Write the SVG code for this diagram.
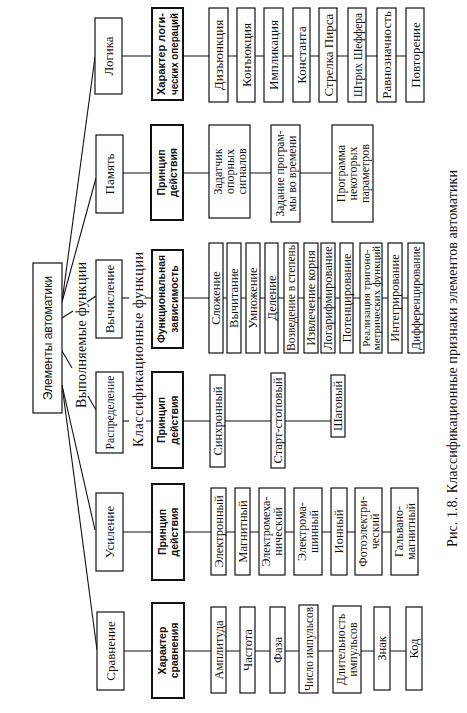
<svg xmlns="http://www.w3.org/2000/svg" width="467" height="713" viewBox="0 0 467 713">
<style>
rect{fill:#fff;stroke:#111;stroke-width:1.2}
rect.bb{stroke-width:2}
line{stroke:#111;stroke-width:1.1}
text{font-family:"Liberation Serif","Times New Roman",serif;font-size:12.5px;fill:#111;text-anchor:middle}
.l1{font-size:13px}
.lb{font-family:"Liberation Sans",Arial,sans-serif;font-weight:bold;font-size:10.5px}
.rt{font-family:"Liberation Sans",Arial,sans-serif;font-size:12px}
.s12{font-size:12px}
.s11{font-size:11px}
.lbl{font-size:14px}
.lf13{font-size:13px}
</style>
<rect x="0" y="0" width="467" height="713" style="fill:#fff;stroke:none"/>
<g id="connectors">
<line x1="62" y1="302" x2="95" y2="57"/>
<line x1="62" y1="302" x2="96" y2="178"/>
<line x1="62" y1="318" x2="73" y2="311"/>
<line x1="87" y1="302" x2="96" y2="296"/>
<line x1="62" y1="351" x2="72" y2="368"/>
<line x1="88" y1="396" x2="96" y2="410"/>
<line x1="62" y1="385" x2="95" y2="530"/>
<line x1="62" y1="385" x2="97" y2="650"/>
<line x1="122" y1="56" x2="406" y2="56"/>
<line x1="123" y1="173" x2="332" y2="173"/>
<line x1="122" y1="298" x2="129" y2="298"/>
<line x1="146" y1="298" x2="408" y2="298"/>
<line x1="123" y1="421" x2="129" y2="421"/>
<line x1="146" y1="421" x2="331" y2="421"/>
<line x1="123" y1="532" x2="391" y2="532"/>
<line x1="124" y1="651" x2="406" y2="651"/>
</g>
<g id="labels">
<text class="lbl" transform="translate(86,335) rotate(-90)" textLength="146" lengthAdjust="spacing">Выполняемые функции</text>
<text class="lbl" transform="translate(143,349.5) rotate(-90)" textLength="195" lengthAdjust="spacing">Классификационные функции</text>
<text class="lbl" transform="translate(457,358.5) rotate(-90)" textLength="377" lengthAdjust="spacing">Рис. 1.8. Классификационные признаки элементов автоматики</text>
</g>
<g id="root"><rect x="33" y="263" width="29" height="150"/><text class="rt" transform="translate(47.5,338) rotate(-90)" y="4.3">Элементы автоматики</text></g>

<g id="logic">
<rect x="95" y="18" width="27" height="76"/><text class="l1" transform="translate(108.5,56) rotate(-90)" y="4.5">Логика</text>
</g>
<g id="logic-type">
<rect class="bb" x="152" y="8" width="31" height="92"/><text class="lb" transform="translate(167.5,54) rotate(-90)"><tspan x="0" y="-2.4" textLength="82" lengthAdjust="spacingAndGlyphs">Характер логи-</tspan><tspan x="0" y="10.1" textLength="82" lengthAdjust="spacingAndGlyphs">ческих операций</tspan></text>
</g>
<g id="disj"><rect x="209" y="8" width="19" height="94"/><text class="lf13" transform="translate(218.5,55) rotate(-90)" y="4.5">Дизъюнкция</text></g>
<g id="conj"><rect x="237" y="8" width="18" height="94"/><text class="lf13" transform="translate(246,55) rotate(-90)" y="4.5">Конъюкция</text></g>
<g id="impl"><rect x="264" y="8" width="19" height="94"/><text class="lf13" transform="translate(273.5,55) rotate(-90)" y="4.5">Импликация</text></g>
<g id="const"><rect x="293" y="8" width="17" height="94"/><text class="lf13" transform="translate(301.5,55) rotate(-90)" y="4.5">Константа</text></g>
<g id="peirce"><rect x="319" y="8" width="18" height="94"/><text class="lf13" transform="translate(328,55) rotate(-90)" y="4.5">Стрелка Пирса</text></g>
<g id="sheffer"><rect x="348" y="8" width="18" height="94"/><text class="lf13" transform="translate(357,55) rotate(-90)" y="4.5" textLength="84" lengthAdjust="spacingAndGlyphs">Штрих Шеффера</text></g>
<g id="equiv"><rect x="377" y="8" width="19" height="94"/><text class="lf13" transform="translate(386.5,55) rotate(-90)" y="4.5">Равнозначность</text></g>
<g id="repeat"><rect x="406" y="8" width="18" height="94"/><text class="lf13" transform="translate(415,55) rotate(-90)" y="4.5">Повторение</text></g>

<g id="memory"><rect x="96" y="135" width="27" height="78"/><text class="l1" transform="translate(109.5,174) rotate(-90)" y="4.5">Память</text></g>
<g id="memory-principle"><rect class="bb" x="151" y="125" width="32" height="95"/><text class="lb" transform="translate(167,172.5) rotate(-90)"><tspan x="0" y="-2.4">Принцип</tspan><tspan x="0" y="10.1">действия</tspan></text></g>
<g id="ref-signals"><rect x="209" y="125" width="41" height="93"/><text class="s12" transform="translate(229.5,171.5) rotate(-90)"><tspan x="0" y="-7.8">Задатчик</tspan><tspan x="0" y="4.2">опорных</tspan><tspan x="0" y="16.2">сигналов</tspan></text></g>
<g id="time-program"><rect x="271" y="125" width="29" height="97"/><text class="s12" transform="translate(285.5,173.5) rotate(-90)"><tspan x="0" y="-1.8" textLength="86" lengthAdjust="spacingAndGlyphs">Задание програм-</tspan><tspan x="0" y="10.2">мы во времени</tspan></text></g>
<g id="param-program"><rect x="332" y="125" width="41" height="97"/><text class="s12" transform="translate(352.5,173.5) rotate(-90)"><tspan x="0" y="-7.8">Программа</tspan><tspan x="0" y="4.2">некоторых</tspan><tspan x="0" y="16.2">параметров</tspan></text></g>

<g id="calc"><rect x="96" y="260" width="26" height="78"/><text class="l1" transform="translate(109,299) rotate(-90)" y="4.5">Вычисление</text></g>
<g id="calc-func"><rect class="bb" x="152" y="250" width="31" height="98"/><text class="lb" transform="translate(167.5,299) rotate(-90)"><tspan x="0" y="-2.4" textLength="88" lengthAdjust="spacingAndGlyphs">Функциональная</tspan><tspan x="0" y="10.1">зависимость</tspan></text></g>
<g id="add"><rect x="209" y="243" width="14" height="110"/><text transform="translate(216,298) rotate(-90)" y="4.4">Сложение</text></g>
<g id="sub"><rect x="227" y="243" width="14" height="110"/><text transform="translate(234,298) rotate(-90)" y="4.4">Вычитание</text></g>
<g id="mul"><rect x="246" y="243" width="14" height="110"/><text transform="translate(253,298) rotate(-90)" y="4.4">Умножение</text></g>
<g id="div"><rect x="265" y="243" width="13" height="110"/><text transform="translate(271.5,298) rotate(-90)" y="4.4">Деление</text></g>
<g id="pow"><rect x="284" y="243" width="14" height="110"/><text transform="translate(291,298) rotate(-90)" y="4.4" textLength="106" lengthAdjust="spacingAndGlyphs">Возведение в степень</text></g>
<g id="root-ext"><rect x="304" y="243" width="14" height="110"/><text transform="translate(311,298) rotate(-90)" y="4.4">Извлечение корня</text></g>
<g id="log"><rect x="321" y="243" width="14" height="110"/><text transform="translate(328,298) rotate(-90)" y="4.4">Логарифмирование</text></g>
<g id="exp"><rect x="340" y="243" width="13" height="110"/><text transform="translate(346.5,298) rotate(-90)" y="4.4">Потенцирование</text></g>
<g id="trig"><rect x="360" y="243" width="22" height="110"/><text class="s11" transform="translate(371,298) rotate(-90)"><tspan x="0" y="-1.4">Реализация тригоно-</tspan><tspan x="0" y="9.1">метрических функций</tspan></text></g>
<g id="int"><rect x="388" y="243" width="14" height="110"/><text transform="translate(395,298) rotate(-90)" y="4.4">Интегрирование</text></g>
<g id="diff"><rect x="408" y="243" width="16" height="110"/><text transform="translate(416,298) rotate(-90)" y="4.4" textLength="104" lengthAdjust="spacingAndGlyphs">Дифференцирование</text></g>

<g id="distrib"><rect x="96" y="372" width="27" height="81"/><text class="l1" transform="translate(109.5,412.5) rotate(-90)" y="4.5" textLength="74" lengthAdjust="spacingAndGlyphs">Распределение</text></g>
<g id="distrib-principle"><rect class="bb" x="152" y="372" width="31" height="96"/><text class="lb" transform="translate(167.5,420) rotate(-90)"><tspan x="0" y="-2.4">Принцип</tspan><tspan x="0" y="10.1">действия</tspan></text></g>
<g id="sync"><rect x="210" y="375" width="15" height="92"/><text transform="translate(217.5,421) rotate(-90)" y="4.4">Синхронный</text></g>
<g id="startstop"><rect x="271" y="373" width="14" height="95"/><text transform="translate(278,420.5) rotate(-90)" y="4.4">Старт-стоповый</text></g>
<g id="step"><rect x="331" y="375" width="14" height="62"/><text transform="translate(338,406) rotate(-90)" y="4.4">Шаговый</text></g>

<g id="amp"><rect x="96" y="493" width="27" height="78"/><text class="l1" transform="translate(109.5,532) rotate(-90)" y="4.5">Усиление</text></g>
<g id="amp-principle"><rect class="bb" x="152" y="484" width="32" height="96"/><text class="lb" transform="translate(168,532) rotate(-90)"><tspan x="0" y="-2.4">Принцип</tspan><tspan x="0" y="10.1">действия</tspan></text></g>
<g id="electronic"><rect x="211" y="488" width="15" height="87"/><text transform="translate(218.5,531.5) rotate(-90)" y="4.4">Электронный</text></g>
<g id="magnetic"><rect x="235" y="488" width="15" height="87"/><text transform="translate(242.5,531.5) rotate(-90)" y="4.4">Магнитный</text></g>
<g id="electromech"><rect x="259" y="488" width="26" height="87"/><text class="s12" transform="translate(272,531.5) rotate(-90)"><tspan x="0" y="-1.6">Электромеха-</tspan><tspan x="0" y="9.9">нический</tspan></text></g>
<g id="electromach"><rect x="294" y="488" width="28" height="87"/><text class="s12" transform="translate(308,531.5) rotate(-90)"><tspan x="0" y="-1.8">Электрома-</tspan><tspan x="0" y="10.2">шинный</tspan></text></g>
<g id="ionic"><rect x="331" y="488" width="16" height="87"/><text transform="translate(339,531.5) rotate(-90)" y="4.4">Ионный</text></g>
<g id="photo"><rect x="355" y="488" width="27" height="87"/><text class="s12" transform="translate(368.5,531.5) rotate(-90)"><tspan x="0" y="-1.8">Фотоэлектри-</tspan><tspan x="0" y="10.2">ческий</tspan></text></g>
<g id="galvano"><rect x="391" y="488" width="27" height="87"/><text class="s12" transform="translate(404.5,531.5) rotate(-90)"><tspan x="0" y="-1.8">Гальвано-</tspan><tspan x="0" y="10.2">магнитный</tspan></text></g>

<g id="compare"><rect x="97" y="612" width="27" height="78"/><text class="l1" transform="translate(110.5,651) rotate(-90)" y="4.5">Сравнение</text></g>
<g id="compare-type"><rect class="bb" x="152" y="603" width="32" height="95"/><text class="lb" transform="translate(168,650.5) rotate(-90)"><tspan x="0" y="-2.4">Характер</tspan><tspan x="0" y="10.1">сравнения</tspan></text></g>
<g id="amplitude"><rect x="211" y="607" width="15" height="86"/><text transform="translate(218.5,650) rotate(-90)" y="4.4">Амплитуда</text></g>
<g id="freq"><rect x="240" y="607" width="15" height="86"/><text transform="translate(247.5,650) rotate(-90)" y="4.4">Частота</text></g>
<g id="phase"><rect x="270" y="607" width="15" height="86"/><text transform="translate(277.5,650) rotate(-90)" y="4.4">Фаза</text></g>
<g id="pulse-count"><rect x="299" y="605" width="19" height="88"/><text transform="translate(308.5,649) rotate(-90)" y="4.4" textLength="84" lengthAdjust="spacingAndGlyphs">Число импульсов</text></g>
<g id="pulse-dur"><rect x="333" y="606" width="28" height="87"/><text class="s12" transform="translate(347,649.5) rotate(-90)"><tspan x="0" y="-1.8">Длительность</tspan><tspan x="0" y="10.2">импульсов</tspan></text></g>
<g id="sign"><rect x="374" y="607" width="16" height="83"/><text transform="translate(382,648.5) rotate(-90)" y="4.4">Знак</text></g>
<g id="code"><rect x="406" y="607" width="16" height="83"/><text transform="translate(414,648.5) rotate(-90)" y="4.4">Код</text></g>
</svg>
